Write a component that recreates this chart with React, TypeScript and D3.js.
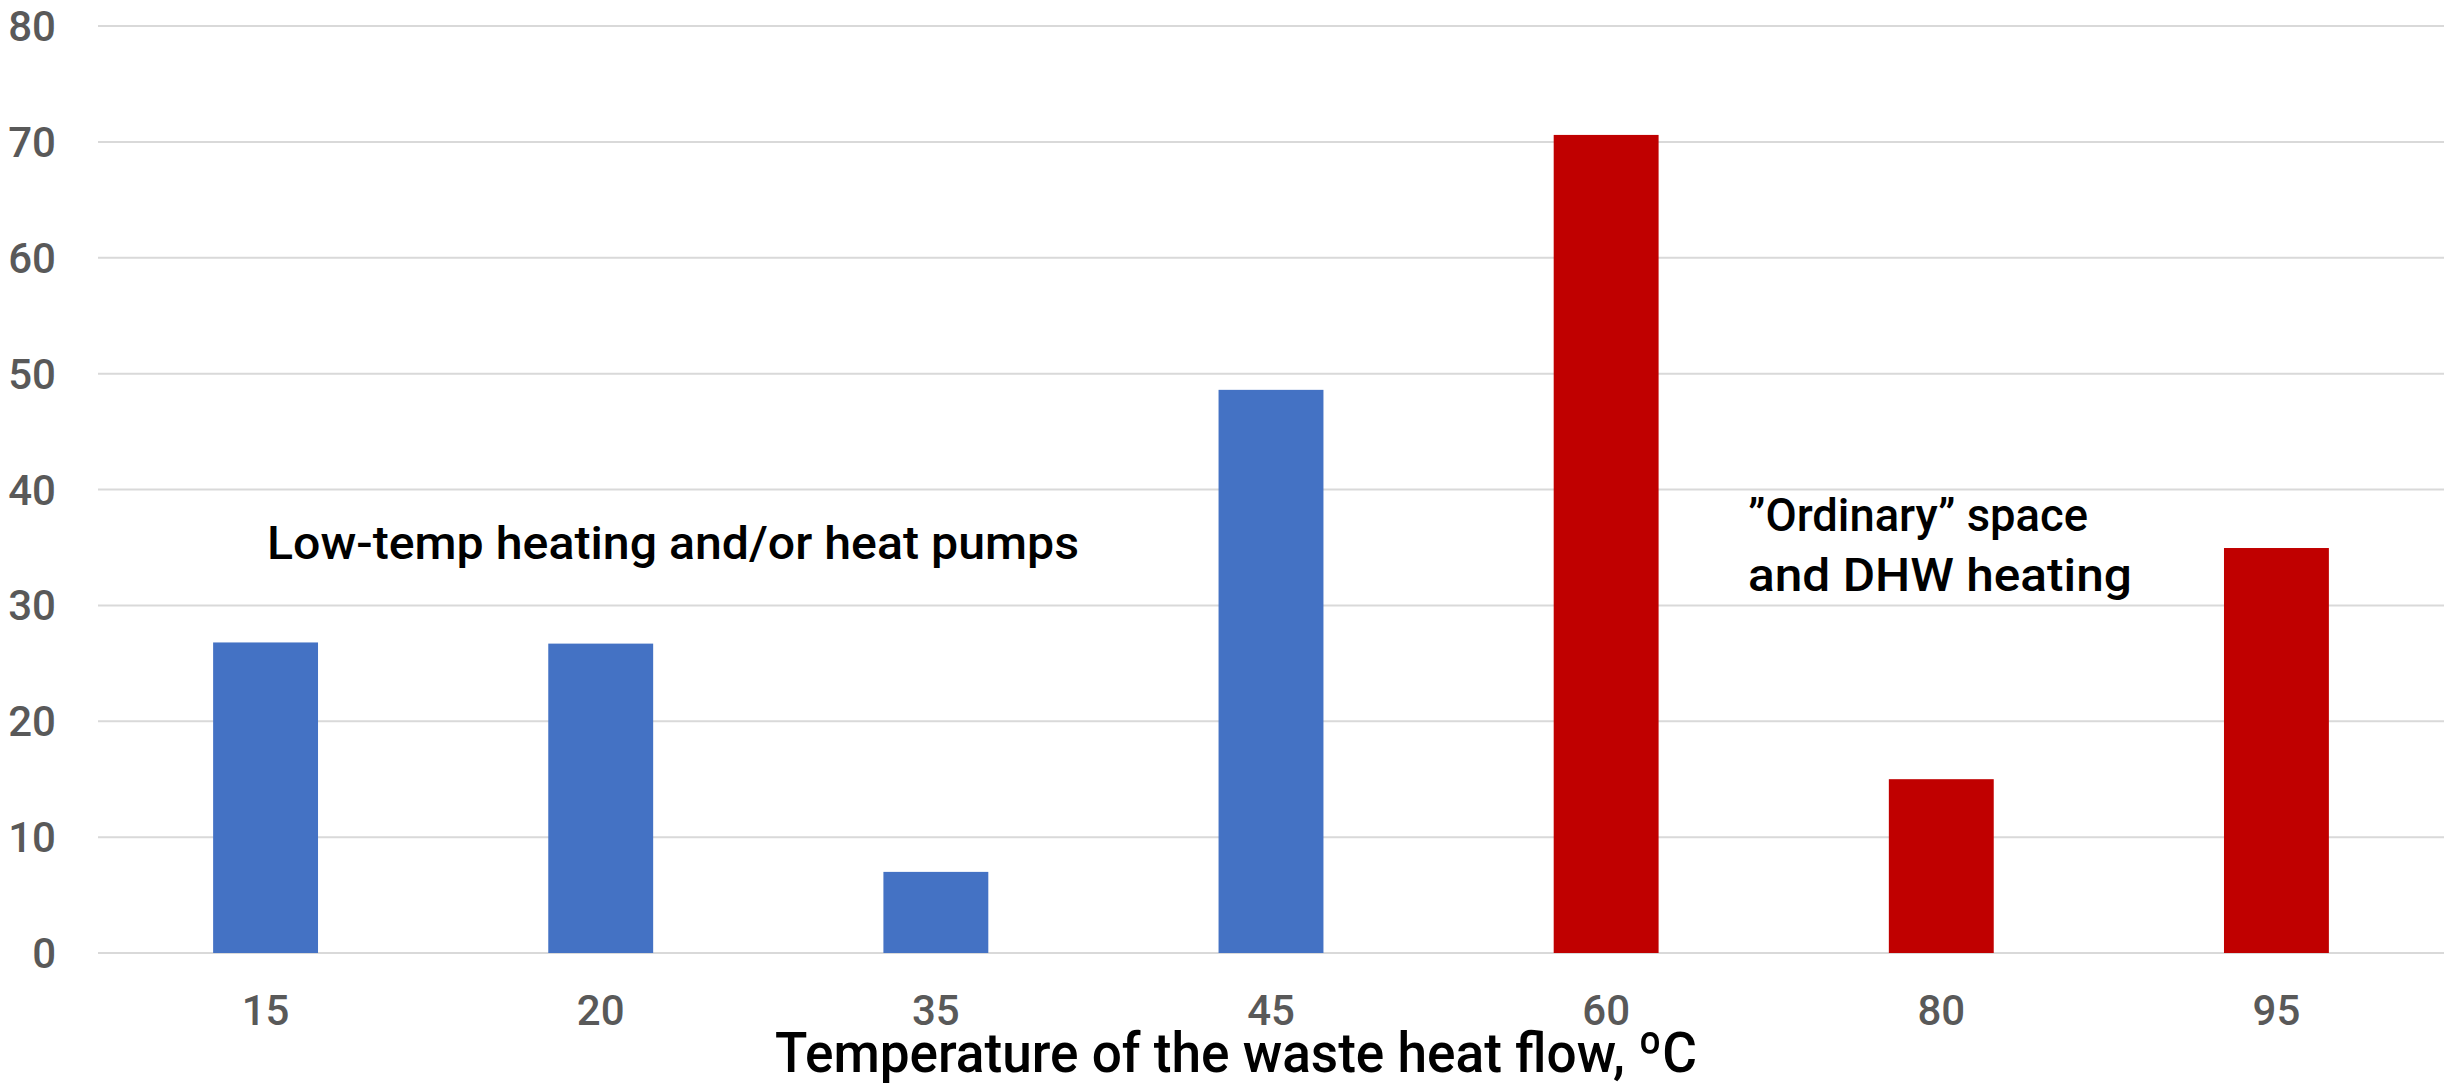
import React, { useRef, useEffect } from 'react';
import * as d3 from 'd3';

// chart values
const categories = ['15', '20', '35', '45', '60', '80', '95'];
const values = [26.8, 26.7, 7.0, 48.6, 70.6, 15.0, 34.95];
const groups = ['low', 'low', 'low', 'low', 'high', 'high', 'high'];
const yTicks = [0, 10, 20, 30, 40, 50, 60, 70, 80];
const annotationLow = ['Low-temp heating and/or heat pumps'];
const annotationHigh = ['\u201dOrdinary\u201d space', 'and DHW heating'];
const xTitle = 'Temperature of the waste heat flow, \u00baC';

const WIDTH = 2453;
const HEIGHT = 1084;
const FONT = 'Roboto, "DejaVu Sans Condensed", sans-serif';

const App = () => {
  const svgRef = useRef(null);

  useEffect(() => {
    const svg = d3.select(svgRef.current);
    svg.selectAll('*').remove();

    svg.attr('width', WIDTH).attr('height', HEIGHT);

    svg.append('rect')
      .attr('width', WIDTH)
      .attr('height', HEIGHT)
      .attr('fill', '#ffffff');

    const margin = { top: 26, right: 9, bottom: 131, left: 98 };
    const plotW = WIDTH - margin.left - margin.right;
    const plotH = HEIGHT - margin.top - margin.bottom;

    const x = d3.scaleBand()
      .domain(categories)
      .range([0, plotW])
      .padding(0);

    const y = d3.scaleLinear()
      .domain([0, 80])
      .range([plotH, 0]);

    const color = d3.scaleOrdinal()
      .domain(['low', 'high'])
      .range(['#4472C4', '#C00000']);

    const g = svg.append('g')
      .attr('transform', `translate(${margin.left}, ${margin.top})`);

    // gridlines
    g.selectAll('.grid')
      .data(yTicks)
      .join('line')
      .attr('class', 'grid')
      .attr('x1', 0)
      .attr('x2', plotW)
      .attr('y1', d => y(d))
      .attr('y2', d => y(d))
      .attr('stroke', '#D9D9D9')
      .attr('stroke-width', 2);

    // y tick labels
    g.selectAll('.ytick')
      .data(yTicks)
      .join('text')
      .attr('class', 'ytick')
      .attr('x', -42)
      .attr('y', d => y(d))
      .attr('dy', '0.36em')
      .attr('text-anchor', 'end')
      .attr('font-family', FONT)
      .attr('font-weight', 500)
      .attr('font-size', 42)
      .attr('fill', '#595959')
      .text(d => d);

    // bars
    const barW = x.bandwidth() * 0.313;
    const data = categories.map((c, i) => ({ c, v: values[i], grp: groups[i] }));

    g.selectAll('.bar')
      .data(data)
      .join('rect')
      .attr('class', 'bar')
      .attr('x', d => x(d.c) + (x.bandwidth() - barW) / 2)
      .attr('y', d => y(d.v))
      .attr('width', barW)
      .attr('height', d => plotH - y(d.v))
      .attr('fill', d => color(d.grp));

    // x tick labels
    g.selectAll('.xtick')
      .data(categories)
      .join('text')
      .attr('class', 'xtick')
      .attr('x', d => x(d) + x.bandwidth() / 2)
      .attr('y', plotH + 72)
      .attr('text-anchor', 'middle')
      .attr('font-family', FONT)
      .attr('font-weight', 500)
      .attr('font-size', 42)
      .attr('fill', '#595959')
      .text(d => d);

    // axis title
    svg.append('text')
      .attr('x', 775)
      .attr('y', 1072)
      .attr('font-family', FONT)
      .attr('font-weight', 500)
      .attr('font-size', 56)
      .attr('fill', '#000000')
      .attr('textLength', 922)
      .attr('lengthAdjust', 'spacingAndGlyphs')
      .text(xTitle);

    // annotations
    svg.append('text')
      .attr('x', 267)
      .attr('y', 559)
      .attr('font-family', FONT)
      .attr('font-weight', 500)
      .attr('font-size', 46)
      .attr('fill', '#000000')
      .attr('textLength', 812)
      .attr('lengthAdjust', 'spacingAndGlyphs')
      .text(annotationLow[0]);

    const high = svg.append('text')
      .attr('font-family', FONT)
      .attr('font-weight', 500)
      .attr('font-size', 46)
      .attr('fill', '#000000');
    high.append('tspan')
      .attr('x', 1748)
      .attr('y', 531)
      .attr('textLength', 340)
      .attr('lengthAdjust', 'spacingAndGlyphs')
      .text(annotationHigh[0]);
    high.append('tspan')
      .attr('x', 1748)
      .attr('y', 591)
      .attr('textLength', 384)
      .attr('lengthAdjust', 'spacingAndGlyphs')
      .text(annotationHigh[1]);
  }, []);

  return (
    <div style={{ position: 'absolute', left: 0, top: 0 }}>
      <svg ref={svgRef} style={{ display: 'block' }}></svg>
    </div>
  );
};

export default App;
